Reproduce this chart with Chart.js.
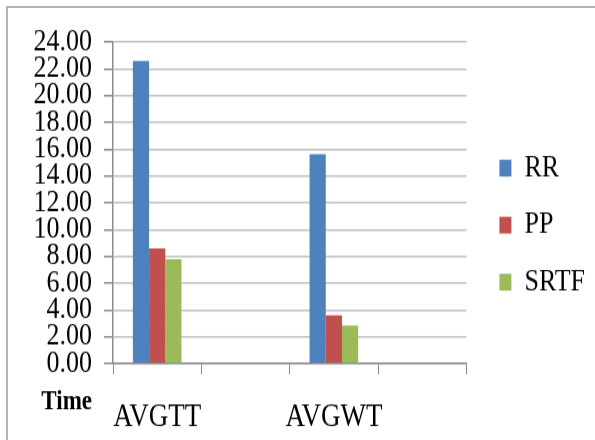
<!DOCTYPE html>
<html>
<head>
<meta charset="utf-8">
<script src="https://cdn.jsdelivr.net/npm/chart.js@4.4.1/dist/chart.umd.min.js"></script>
<style>
  html, body { margin: 0; padding: 0; background: #fff; overflow: hidden; }
  body { width: 595px; height: 440px; position: relative; }
  #frame { position: absolute; left: 6px; top: 6px; width: 640px; height: 480px; border: 2px solid #b4b4b4; }
  /* the source picture is stretched vertically, so the chart is drawn short and scaled up */
  #wrap { position: absolute; left: 0; top: 0; width: 595px; height: 367px; transform: scaleY(1.2); transform-origin: 0 0; }
</style>
</head>
<body>
<div id="frame"></div>
<div id="wrap"><canvas id="chart" width="595" height="367"></canvas></div>
<script>
const categories = ['AVGTT', '', 'AVGWT', ''];
const rrValues = [22.6, null, 15.63, null];
const ppValues = [8.6, null, 3.61, null];
const srtfValues = [7.78, null, 2.84, null];
const axisTitle = 'Time';

Chart.defaults.font.family = '"Liberation Serif", "Times New Roman", serif';
Chart.defaults.color = '#000';

// "Time" sits left of the category labels, outside the plot
const timeLabel = {
    id: 'timeLabel',
    afterDraw(chart) {
        const ctx = chart.ctx;
        const area = chart.chartArea;
        ctx.save();
        ctx.font = 'bold 23px "Liberation Serif", serif';
        ctx.fillStyle = '#000';
        ctx.textAlign = 'right';
        ctx.textBaseline = 'middle';
        ctx.fillText(axisTitle, area.left - 21, area.bottom + 32);
        ctx.restore();
    }
};

const ctx = document.getElementById('chart').getContext('2d');
new Chart(ctx, {
    type: 'bar',
    data: {
        labels: categories,
        datasets: [
            { label: 'RR', data: rrValues, backgroundColor: '#4F81BD' },
            { label: 'PP', data: ppValues, backgroundColor: '#C0504D' },
            { label: 'SRTF', data: srtfValues, backgroundColor: '#9BBB59' }
        ]
    },
    options: {
        responsive: false,
        animation: false,
        devicePixelRatio: 1,
        datasets: { bar: { barPercentage: 1, categoryPercentage: 0.55 } },
        layout: { padding: { left: 0, right: 0, top: 35, bottom: 0 } },
        plugins: {
            tooltip: { enabled: false },
            legend: {
                position: 'right',
                fullSize: false,
                align: 'center',
                maxWidth: 140,
                // empty title only pushes the entries down
                title: { display: true, text: '', font: { size: 10, lineHeight: 1 }, padding: { top: 27.25, bottom: 0 } },
                labels: {
                    boxWidth: 12,
                    boxHeight: 14,
                    padding: 21.5,
                    font: { size: 26, lineHeight: 1 },
                    color: '#000'
                }
            }
        },
        scales: {
            x: {
                grid: { drawOnChartArea: false, drawTicks: true, tickLength: 9, tickColor: '#8c8c8c', offset: true },
                border: { color: '#8c8c8c', width: 1.5 },
                ticks: { font: { size: 27, lineHeight: 1 }, padding: 22, autoSkip: false, maxRotation: 0, minRotation: 0, color: '#000' },
                afterFit(scale) { scale.height = 64; }
            },
            y: {
                min: 0,
                max: 24,
                grid: { color: '#c2c2c2', lineWidth: 1.5, tickLength: 9, tickColor: '#8c8c8c' },
                border: { color: '#8c8c8c', width: 1.5 },
                ticks: {
                    stepSize: 2,
                    autoSkip: false,
                    padding: 12,
                    font: { size: 26, lineHeight: 1 },
                    color: '#000',
                    callback: v => v.toFixed(2)
                },
                afterFit(scale) { scale.width = 113; }
            },
            gap: {
                type: 'linear',
                position: 'right',
                display: true,
                grid: { display: false },
                border: { display: false },
                ticks: { display: false },
                afterFit(scale) { scale.width = 11.5; }
            }
        }
    },
    plugins: [timeLabel]
});
</script>
</body>
</html>
